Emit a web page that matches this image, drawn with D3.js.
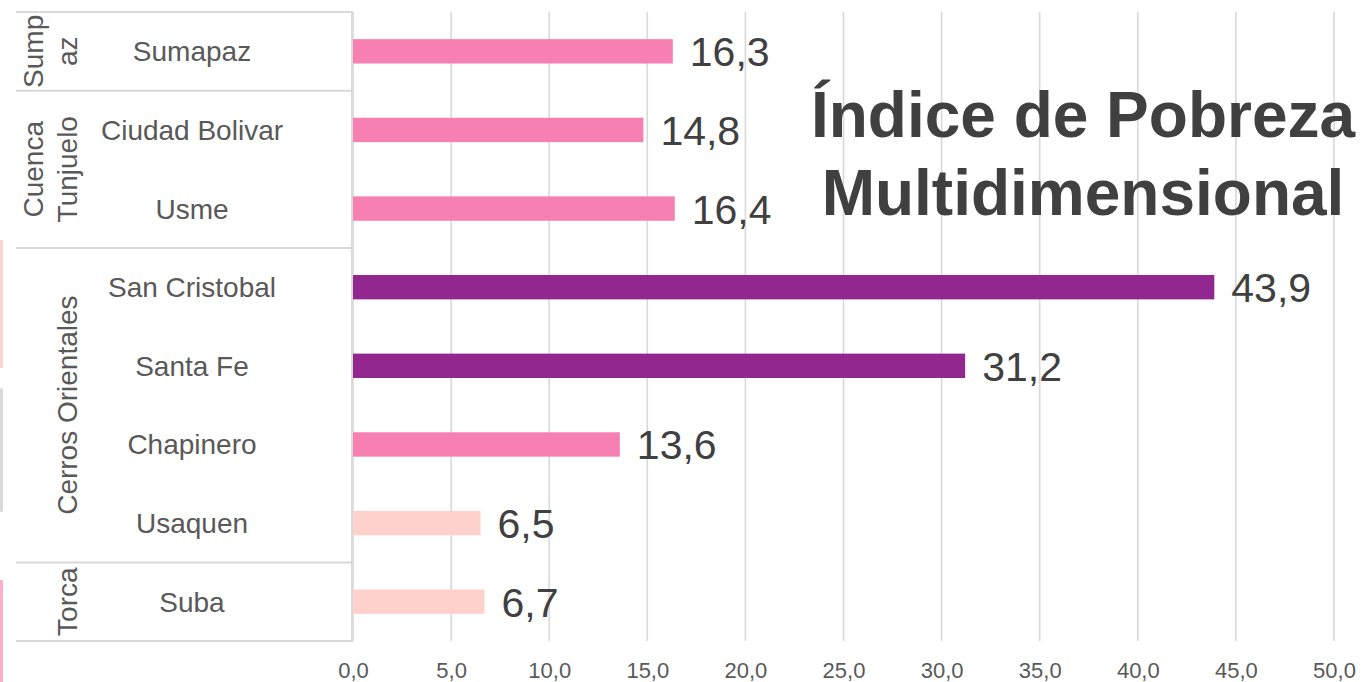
<!DOCTYPE html>
<html>
<head>
<meta charset="utf-8">
<script src="https://cdn.jsdelivr.net/npm/d3@7"></script>
<style>
  html, body { margin: 0; padding: 0; background: #fff; }
  svg { display: block; font-family: "Liberation Sans", Arial, sans-serif; }
</style>
</head>
<body>
<svg id="chart" width="1363" height="682"></svg>
<script>
// Localities, top to bottom
const categories = ["Sumapaz", "Ciudad Bolivar", "Usme", "San Cristobal", "Santa Fe", "Chapinero", "Usaquen", "Suba"];
// Multidimensional poverty index (%)
const values = [16.3, 14.8, 16.4, 43.9, 31.2, 13.6, 6.5, 6.7];
// Grouping of localities into zones (label lines, number of localities)
const groupLabels = [["Sump", "az"], ["Cuenca", "Tunjuelo"], ["Cerros Orientales"], ["Torca"]];
const groupSizes = [1, 2, 4, 1];
// Axis ticks
const tickValues = [0, 5, 10, 15, 20, 25, 30, 35, 40, 45, 50];
const titleLines = ["Índice de Pobreza", "Multidimensional"];

const svg = d3.select("#chart");
const gridColor = "#d9d9d9";
const plotTop = 12, plotBottom = 641, plotLeft = 353, plotRight = 1334;
const tableLeft = 16;

const locale = d3.formatLocale({ decimal: ",", thousands: ".", grouping: [3], currency: ["$", ""] });
const fmt = locale.format(".1f");

const x = d3.scaleLinear().domain([0, 50]).range([plotLeft, plotRight]);
const y = d3.scaleBand().domain(categories).range([plotTop, plotBottom])
  .paddingInner(0.69).paddingOuter(0.345);
const color = d3.scaleThreshold().domain([10, 25]).range(["#ffd1cc", "#f77fb1", "#92278f"]);

// Edge strips on the left margin
svg.append("rect").attr("x", 0).attr("y", 240).attr("width", 3).attr("height", 128).attr("fill", "#ffd3ce");
svg.append("rect").attr("x", 0).attr("y", 388).attr("width", 3).attr("height", 124).attr("rx", 1.5).attr("fill", "#d9d9d9");
svg.append("rect").attr("x", 0).attr("y", 580).attr("width", 3).attr("height", 102).attr("fill", "#ffb0c8");

// Vertical gridlines
svg.append("g").selectAll("line").data(tickValues).join("line")
  .attr("x1", d => x(d)).attr("x2", d => x(d))
  .attr("y1", plotTop).attr("y2", plotBottom)
  .attr("stroke", gridColor).attr("stroke-width", 1.6);

// Category table: horizontal rules at group boundaries and right border
const bounds = [0];
groupSizes.forEach(n => bounds.push(bounds[bounds.length - 1] + n));
const step = y.step();
svg.append("g").selectAll("line").data(bounds).join("line")
  .attr("x1", tableLeft).attr("x2", x(0))
  .attr("y1", d => plotTop + d * step).attr("y2", d => plotTop + d * step)
  .attr("stroke", gridColor).attr("stroke-width", 2);
svg.append("line").attr("x1", x(0) - 1).attr("x2", x(0) - 1)
  .attr("y1", plotTop).attr("y2", plotBottom).attr("stroke", gridColor).attr("stroke-width", 2);

// Bars
svg.append("g").selectAll("rect").data(categories).join("rect")
  .attr("x", x(0))
  .attr("y", d => y(d))
  .attr("width", (d, i) => x(values[i]) - x(0))
  .attr("height", y.bandwidth())
  .attr("fill", (d, i) => color(values[i]));

// Value labels
svg.append("g").selectAll("text").data(categories).join("text")
  .attr("x", (d, i) => x(values[i]) + 17)
  .attr("y", d => y(d) + y.bandwidth() / 2 + 15)
  .attr("font-size", 41).attr("fill", "#404040")
  .text((d, i) => fmt(values[i]));

// Category labels
svg.append("g").selectAll("text").data(categories).join("text")
  .attr("x", 192)
  .attr("y", d => y(d) + y.bandwidth() / 2 + 10)
  .attr("text-anchor", "middle")
  .attr("font-size", 28).attr("fill", "#595959")
  .text(d => d);

// Group labels (rotated)
groupLabels.forEach((lines, gi) => {
  const cy = plotTop + (bounds[gi] + groupSizes[gi] / 2) * step;
  const lastBase = 77, lh = 34;
  lines.forEach((ln, li) => {
    const bx = lastBase - (lines.length - 1 - li) * lh;
    svg.append("text")
      .attr("transform", `translate(${bx},${cy}) rotate(-90)`)
      .attr("text-anchor", "middle")
      .attr("font-size", 28).attr("fill", "#595959")
      .text(ln);
  });
});

// Bottom axis
const axis = svg.append("g").attr("transform", `translate(0,${plotBottom})`)
  .call(d3.axisBottom(x).tickValues(tickValues).tickFormat(fmt).tickSize(0).tickPadding(21));
axis.select(".domain").remove();
axis.selectAll("text").attr("font-size", 22).attr("fill", "#595959")
  .attr("font-family", "'Liberation Sans', Arial, sans-serif");

// Title
svg.append("g").selectAll("text").data(titleLines).join("text")
  .attr("x", 1083)
  .attr("y", (d, i) => 137 + i * 78)
  .attr("text-anchor", "middle")
  .attr("font-size", 64).attr("font-weight", "bold").attr("fill", "#404040")
  .text(d => d);
</script>
</body>
</html>
